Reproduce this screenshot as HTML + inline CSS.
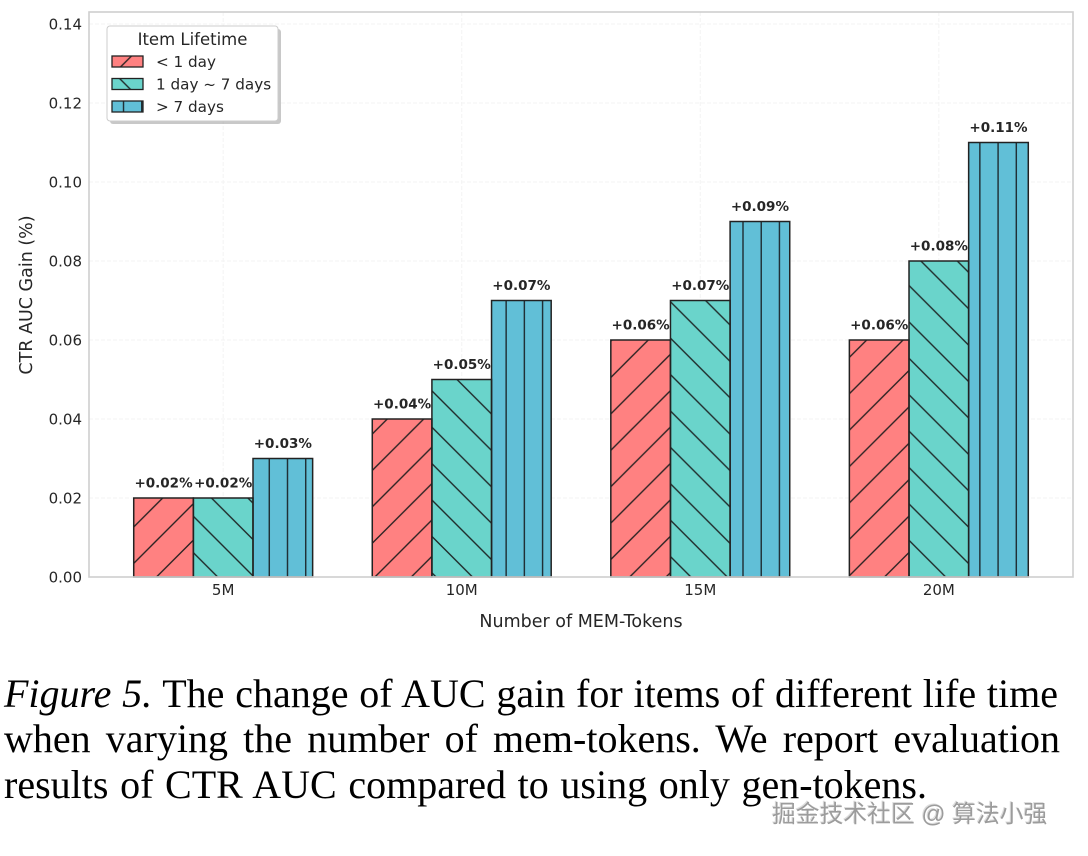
<!DOCTYPE html>
<html>
<head>
<meta charset="utf-8">
<style>
  html, body { margin:0; padding:0; background:#ffffff; }
  body { width:1088px; height:856px; overflow:hidden; position:relative; }
  svg { position:absolute; left:0; top:0; }
  .cap { position:absolute; left:4px; font-family:"Liberation Serif", serif; font-size:40px; line-height:40px; color:#000; white-space:nowrap; text-align:justify; text-align-last:justify; }
  .wm { position:absolute; left:772px; top:799px; font-family:"Liberation Sans","Noto Sans CJK SC",sans-serif; font-size:23.8px; line-height:32px; color:#9c9c9c; white-space:nowrap; text-shadow:1px 1px 0 #ffffff, -1px -1px 0 #dedede; }
</style>
</head>
<body>
<svg width="1088" height="856" viewBox="0 0 1088 856" xmlns="http://www.w3.org/2000/svg">
  <defs>
    <pattern id="hRed" patternUnits="userSpaceOnUse" x="5.5" y="0" width="36.4" height="36.4">
      <path d="M-2,38.4 L38.4,-2 M-2,2 L2,-2 M34.4,38.4 L38.4,34.4" stroke="#2a2222" stroke-width="1.4" fill="none"/>
    </pattern>
    <pattern id="hTeal" patternUnits="userSpaceOnUse" x="4.7" y="0" width="36.4" height="36.4">
      <path d="M-2,-2 L38.4,38.4 M-2,34.4 L2,38.4 M34.4,-2 L38.4,2" stroke="#1f2a2a" stroke-width="1.4" fill="none"/>
    </pattern>
    <pattern id="hBlue" patternUnits="userSpaceOnUse" x="5.09" y="0" width="18.22" height="20">
      <path d="M9.11,-1 L9.11,21" stroke="#1d2a30" stroke-width="1.4" fill="none"/>
    </pattern>
  </defs>

  <!-- grid -->
  <g stroke="#f3f3f3" stroke-width="1" stroke-dasharray="4,2" fill="none">
    <line x1="89" y1="498" x2="1073" y2="498"/>
    <line x1="89" y1="419" x2="1073" y2="419"/>
    <line x1="89" y1="340" x2="1073" y2="340"/>
    <line x1="89" y1="261" x2="1073" y2="261"/>
    <line x1="89" y1="182" x2="1073" y2="182"/>
    <line x1="89" y1="103" x2="1073" y2="103"/>
    <line x1="89" y1="24" x2="1073" y2="24"/>
    <line x1="223.18" y1="12" x2="223.18" y2="577"/>
    <line x1="461.73" y1="12" x2="461.73" y2="577"/>
    <line x1="700.28" y1="12" x2="700.28" y2="577"/>
    <line x1="938.83" y1="12" x2="938.83" y2="577"/>
  </g>

  <!-- bars: red -->
  <g>
    <rect x="133.72" y="498" width="59.64" height="79" fill="#FF8181"/>
    <rect x="372.27" y="419" width="59.64" height="158" fill="#FF8181"/>
    <rect x="610.82" y="340" width="59.64" height="237" fill="#FF8181"/>
    <rect x="849.37" y="340" width="59.64" height="237" fill="#FF8181"/>
  </g>
  <g fill="url(#hRed)">
    <rect x="133.72" y="498" width="59.64" height="79"/>
    <rect x="372.27" y="419" width="59.64" height="158"/>
    <rect x="610.82" y="340" width="59.64" height="237"/>
    <rect x="849.37" y="340" width="59.64" height="237"/>
  </g>
  <!-- bars: teal -->
  <g>
    <rect x="193.36" y="498" width="59.64" height="79" fill="#6AD4CB"/>
    <rect x="431.91" y="379.5" width="59.64" height="197.5" fill="#6AD4CB"/>
    <rect x="670.46" y="300.5" width="59.64" height="276.5" fill="#6AD4CB"/>
    <rect x="909.01" y="261" width="59.64" height="316" fill="#6AD4CB"/>
  </g>
  <g fill="url(#hTeal)">
    <rect x="193.36" y="498" width="59.64" height="79"/>
    <rect x="431.91" y="379.5" width="59.64" height="197.5"/>
    <rect x="670.46" y="300.5" width="59.64" height="276.5"/>
    <rect x="909.01" y="261" width="59.64" height="316"/>
  </g>
  <!-- bars: blue -->
  <g>
    <rect x="253.00" y="458.5" width="59.64" height="118.5" fill="#61BFD7"/>
    <rect x="491.55" y="300.5" width="59.64" height="276.5" fill="#61BFD7"/>
    <rect x="730.10" y="221.5" width="59.64" height="355.5" fill="#61BFD7"/>
    <rect x="968.65" y="142.5" width="59.64" height="434.5" fill="#61BFD7"/>
  </g>
  <g fill="url(#hBlue)">
    <rect x="253.00" y="458.5" width="59.64" height="118.5"/>
    <rect x="491.55" y="300.5" width="59.64" height="276.5"/>
    <rect x="730.10" y="221.5" width="59.64" height="355.5"/>
    <rect x="968.65" y="142.5" width="59.64" height="434.5"/>
  </g>
  <!-- bar edges -->
  <g fill="none" stroke="#222222" stroke-width="1.5">
    <rect x="133.72" y="498" width="59.64" height="79"/>
    <rect x="372.27" y="419" width="59.64" height="158"/>
    <rect x="610.82" y="340" width="59.64" height="237"/>
    <rect x="849.37" y="340" width="59.64" height="237"/>
    <rect x="193.36" y="498" width="59.64" height="79"/>
    <rect x="431.91" y="379.5" width="59.64" height="197.5"/>
    <rect x="670.46" y="300.5" width="59.64" height="276.5"/>
    <rect x="909.01" y="261" width="59.64" height="316"/>
    <rect x="253.00" y="458.5" width="59.64" height="118.5"/>
    <rect x="491.55" y="300.5" width="59.64" height="276.5"/>
    <rect x="730.10" y="221.5" width="59.64" height="355.5"/>
    <rect x="968.65" y="142.5" width="59.64" height="434.5"/>
  </g>

  <!-- spines -->
  <rect x="89" y="12" width="984" height="565" fill="none" stroke="#cfcfcf" stroke-width="1.6"/>

  <!-- value labels -->
  <g font-family="DejaVu Sans, sans-serif" font-size="13.5" font-weight="bold" fill="#262626" text-anchor="middle">
    <text x="163.54" y="487.5">+0.02%</text>
    <text x="223.18" y="487.5">+0.02%</text>
    <text x="282.82" y="448">+0.03%</text>
    <text x="402.09" y="408.5">+0.04%</text>
    <text x="461.73" y="369">+0.05%</text>
    <text x="521.37" y="290">+0.07%</text>
    <text x="640.64" y="329.5">+0.06%</text>
    <text x="700.28" y="290">+0.07%</text>
    <text x="759.92" y="211">+0.09%</text>
    <text x="879.19" y="329.5">+0.06%</text>
    <text x="938.83" y="250.5">+0.08%</text>
    <text x="998.47" y="132">+0.11%</text>
  </g>

  <!-- y tick labels -->
  <g font-family="DejaVu Sans, sans-serif" font-size="15" fill="#262626" text-anchor="end">
    <text x="82" y="582.5">0.00</text>
    <text x="82" y="503.5">0.02</text>
    <text x="82" y="424.5">0.04</text>
    <text x="82" y="345.5">0.06</text>
    <text x="82" y="266.5">0.08</text>
    <text x="82" y="187.5">0.10</text>
    <text x="82" y="108.5">0.12</text>
    <text x="82" y="29.5">0.14</text>
  </g>

  <!-- x tick labels -->
  <g font-family="DejaVu Sans, sans-serif" font-size="15" fill="#262626" text-anchor="middle">
    <text x="223.18" y="595">5M</text>
    <text x="461.73" y="595">10M</text>
    <text x="700.28" y="595">15M</text>
    <text x="938.83" y="595">20M</text>
  </g>

  <!-- axis labels -->
  <text x="581" y="627" font-family="DejaVu Sans, sans-serif" font-size="17.5" fill="#262626" text-anchor="middle">Number of MEM-Tokens</text>
  <text transform="translate(32,295) rotate(-90)" x="0" y="0" font-family="DejaVu Sans, sans-serif" font-size="17.5" fill="#262626" text-anchor="middle">CTR AUC Gain (%)</text>

  <!-- legend -->
  <rect x="110" y="29" width="171" height="95" rx="3" fill="#9a9a9a" opacity="0.55"/>
  <rect x="107" y="26" width="171" height="95" rx="3" fill="#ffffff" stroke="#cccccc" stroke-width="1"/>
  <text x="192.5" y="45" font-family="DejaVu Sans, sans-serif" font-size="16.5" fill="#262626" text-anchor="middle">Item Lifetime</text>
  <rect x="112" y="56" width="31" height="11" fill="#FF8181"/>
  <rect x="112" y="56" width="31" height="11" fill="url(#hRed)"/>
  <rect x="112" y="56" width="31" height="11" fill="none" stroke="#222" stroke-width="1.3"/>
  <rect x="112" y="78.5" width="31" height="11" fill="#6AD4CB"/>
  <rect x="112" y="78.5" width="31" height="11" fill="url(#hTeal)"/>
  <rect x="112" y="78.5" width="31" height="11" fill="none" stroke="#222" stroke-width="1.3"/>
  <rect x="112" y="101" width="31" height="11" fill="#61BFD7"/>
  <rect x="112" y="101" width="31" height="11" fill="url(#hBlue)"/>
  <rect x="112" y="101" width="31" height="11" fill="none" stroke="#222" stroke-width="1.3"/>
  <g font-family="DejaVu Sans, sans-serif" font-size="15.2" fill="#262626">
    <text x="156" y="67">&lt; 1 day</text>
    <text x="156" y="89.5">1 day ~ 7 days</text>
    <text x="156" y="112">&gt; 7 days</text>
  </g>
</svg>

<div class="cap" style="top:673.5px; width:1054px;"><i>Figure 5.</i> The change of AUC gain for items of different life time</div>
<div class="cap" style="top:719px; width:1056px;">when varying the number of mem-tokens. We report evaluation</div>
<div class="cap" style="top:764.5px; width:923px;">results of CTR AUC compared to using only gen-tokens.</div>
<div class="wm">掘金技术社区 @ 算法小强</div>
</body>
</html>
